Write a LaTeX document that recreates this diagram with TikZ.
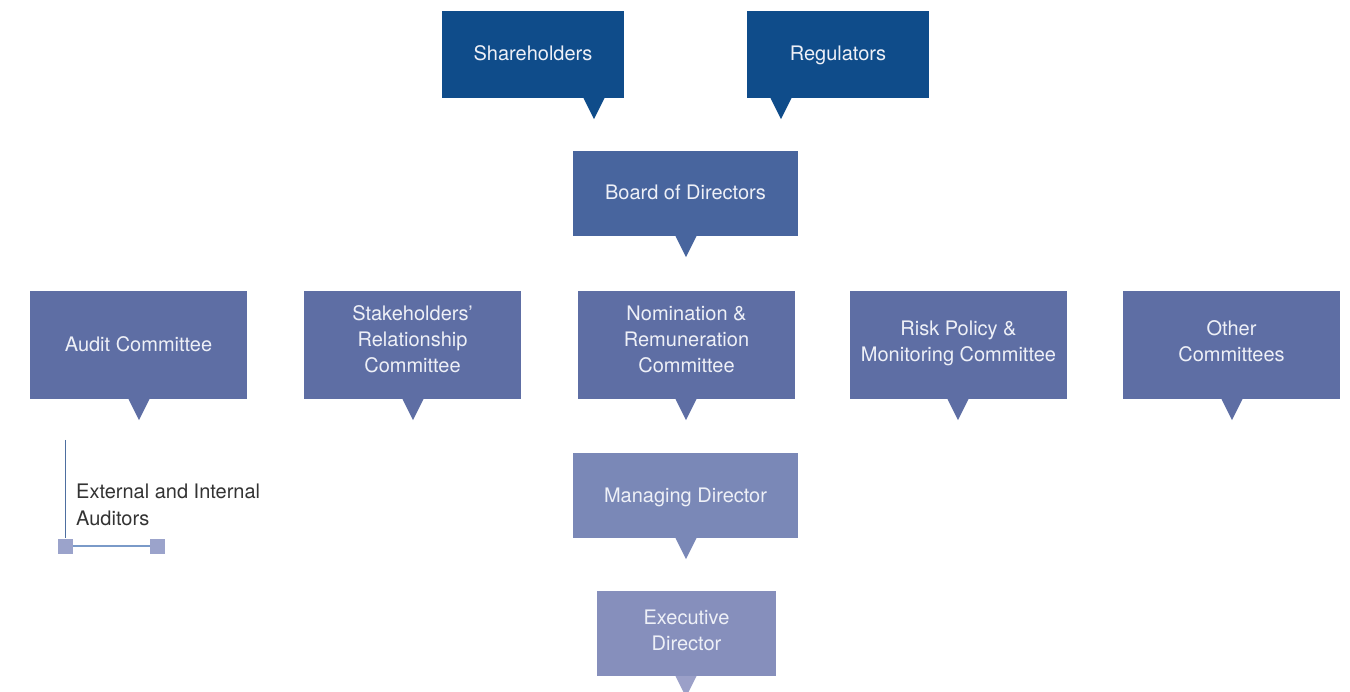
\documentclass[tikz,border=0pt]{standalone}
\usepackage{fontspec}
\setmainfont{TeX Gyre Heros}
\definecolor{cTop}{HTML}{0F4C8A}
\definecolor{cBoard}{HTML}{48659E}
\definecolor{cComm}{HTML}{5E6EA4}
\definecolor{cMD}{HTML}{7A88B7}
\definecolor{cED}{HTML}{868FBC}
\definecolor{cEDtri}{HTML}{9BA0C8}
\definecolor{cTxt}{HTML}{EEF0F7}
\definecolor{cLine}{HTML}{4E6FA0}
\definecolor{cSq}{HTML}{9BA3CB}
\definecolor{cHl}{HTML}{7A9AC8}
\definecolor{cDark}{HTML}{333333}
\tikzset{
  orgbox/.style={rectangle, inner sep=0pt, text=cTxt, align=center,
    font=\fontsize{20}{26}\selectfont},
  oneline/.style={text height=15pt, text depth=2pt},
  topbox/.style={orgbox, oneline, fill=cTop, minimum width=182pt, minimum height=87pt},
  boardbox/.style={orgbox, oneline, fill=cBoard, minimum width=225pt, minimum height=85pt},
  commbox/.style={orgbox, fill=cComm, minimum width=217pt, minimum height=108pt},
  mdbox/.style={orgbox, oneline, fill=cMD, minimum width=225pt, minimum height=85pt},
  edbox/.style={orgbox, fill=cED, minimum width=179pt, minimum height=85pt},
  sqbox/.style={rectangle, fill=cSq, minimum size=15pt, inner sep=0pt},
}
\newcommand{\tstrut}{\rule{0pt}{20pt}}
\newcommand{\bstrut}[1]{\rule[-#1pt]{0pt}{#1pt}}
\newcommand{\pointer}[3]{\fill[#3] ([xshift=#2pt-10.5pt]#1.south) -- ([xshift=#2pt+10.5pt]#1.south) -- ([xshift=#2pt, yshift=-21pt]#1.south) -- cycle;}
\begin{document}
\begin{tikzpicture}[x=1pt,y=-1pt]
\useasboundingbox (0,0) rectangle (1350,692);
\node[topbox] (sh) at (533,54.5) {Shareholders};
\node[topbox] (rg) at (838,54.5) {Regulators};
\node[boardbox] (bd) at (685.5,193.5) {Board of Directors};
\node[commbox, oneline] (ac) at (138.5,345) {Audit Committee};
\node[commbox] (sr) at (412.5,345) {\tstrut Stakeholders'\\Relationship\\Committee\bstrut{17.6}};
\node[commbox] (nr) at (686.5,345) {\tstrut Nomination \&\\Remuneration\\Committee\bstrut{17.6}};
\node[commbox] (rp) at (958.5,345) {\tstrut Risk Policy \&\\Monitoring Committee\bstrut{13.6}};
\node[commbox] (oc) at (1231.5,345) {\tstrut Other\\Committees\bstrut{13.6}};
\node[mdbox] (md) at (685.5,495.5) {Managing Director};
\node[edbox] (ed) at (686.5,633.5) {\tstrut Executive\\Director\bstrut{12.6}};
\pointer{sh}{61}{cTop}
\pointer{rg}{-57}{cTop}
\pointer{bd}{0.5}{cBoard}
\pointer{ac}{0.5}{cComm}
\pointer{sr}{0.5}{cComm}
\pointer{nr}{-0.5}{cComm}
\pointer{rp}{-0.5}{cComm}
\pointer{oc}{0.5}{cComm}
\pointer{md}{0.5}{cMD}
\pointer{ed}{-0.5}{cEDtri}
% auditors
\coordinate (vtop) at (65.5,440);
\node[sqbox] (sq1) at (65.5,546) {};
\node[sqbox] (sq2) at (157.5,546) {};
\draw[cLine, line width=1.2pt] (vtop) -- (sq1.north);
\draw[cHl, line width=1.5pt] (sq1.east) -- (sq2.west);
\node[anchor=base west, inner sep=0pt, align=left, text=cDark,
  font=\fontsize{20}{26}\selectfont] (aud) at (76,525) {External and Internal\\Auditors};
\end{tikzpicture}
\end{document}
